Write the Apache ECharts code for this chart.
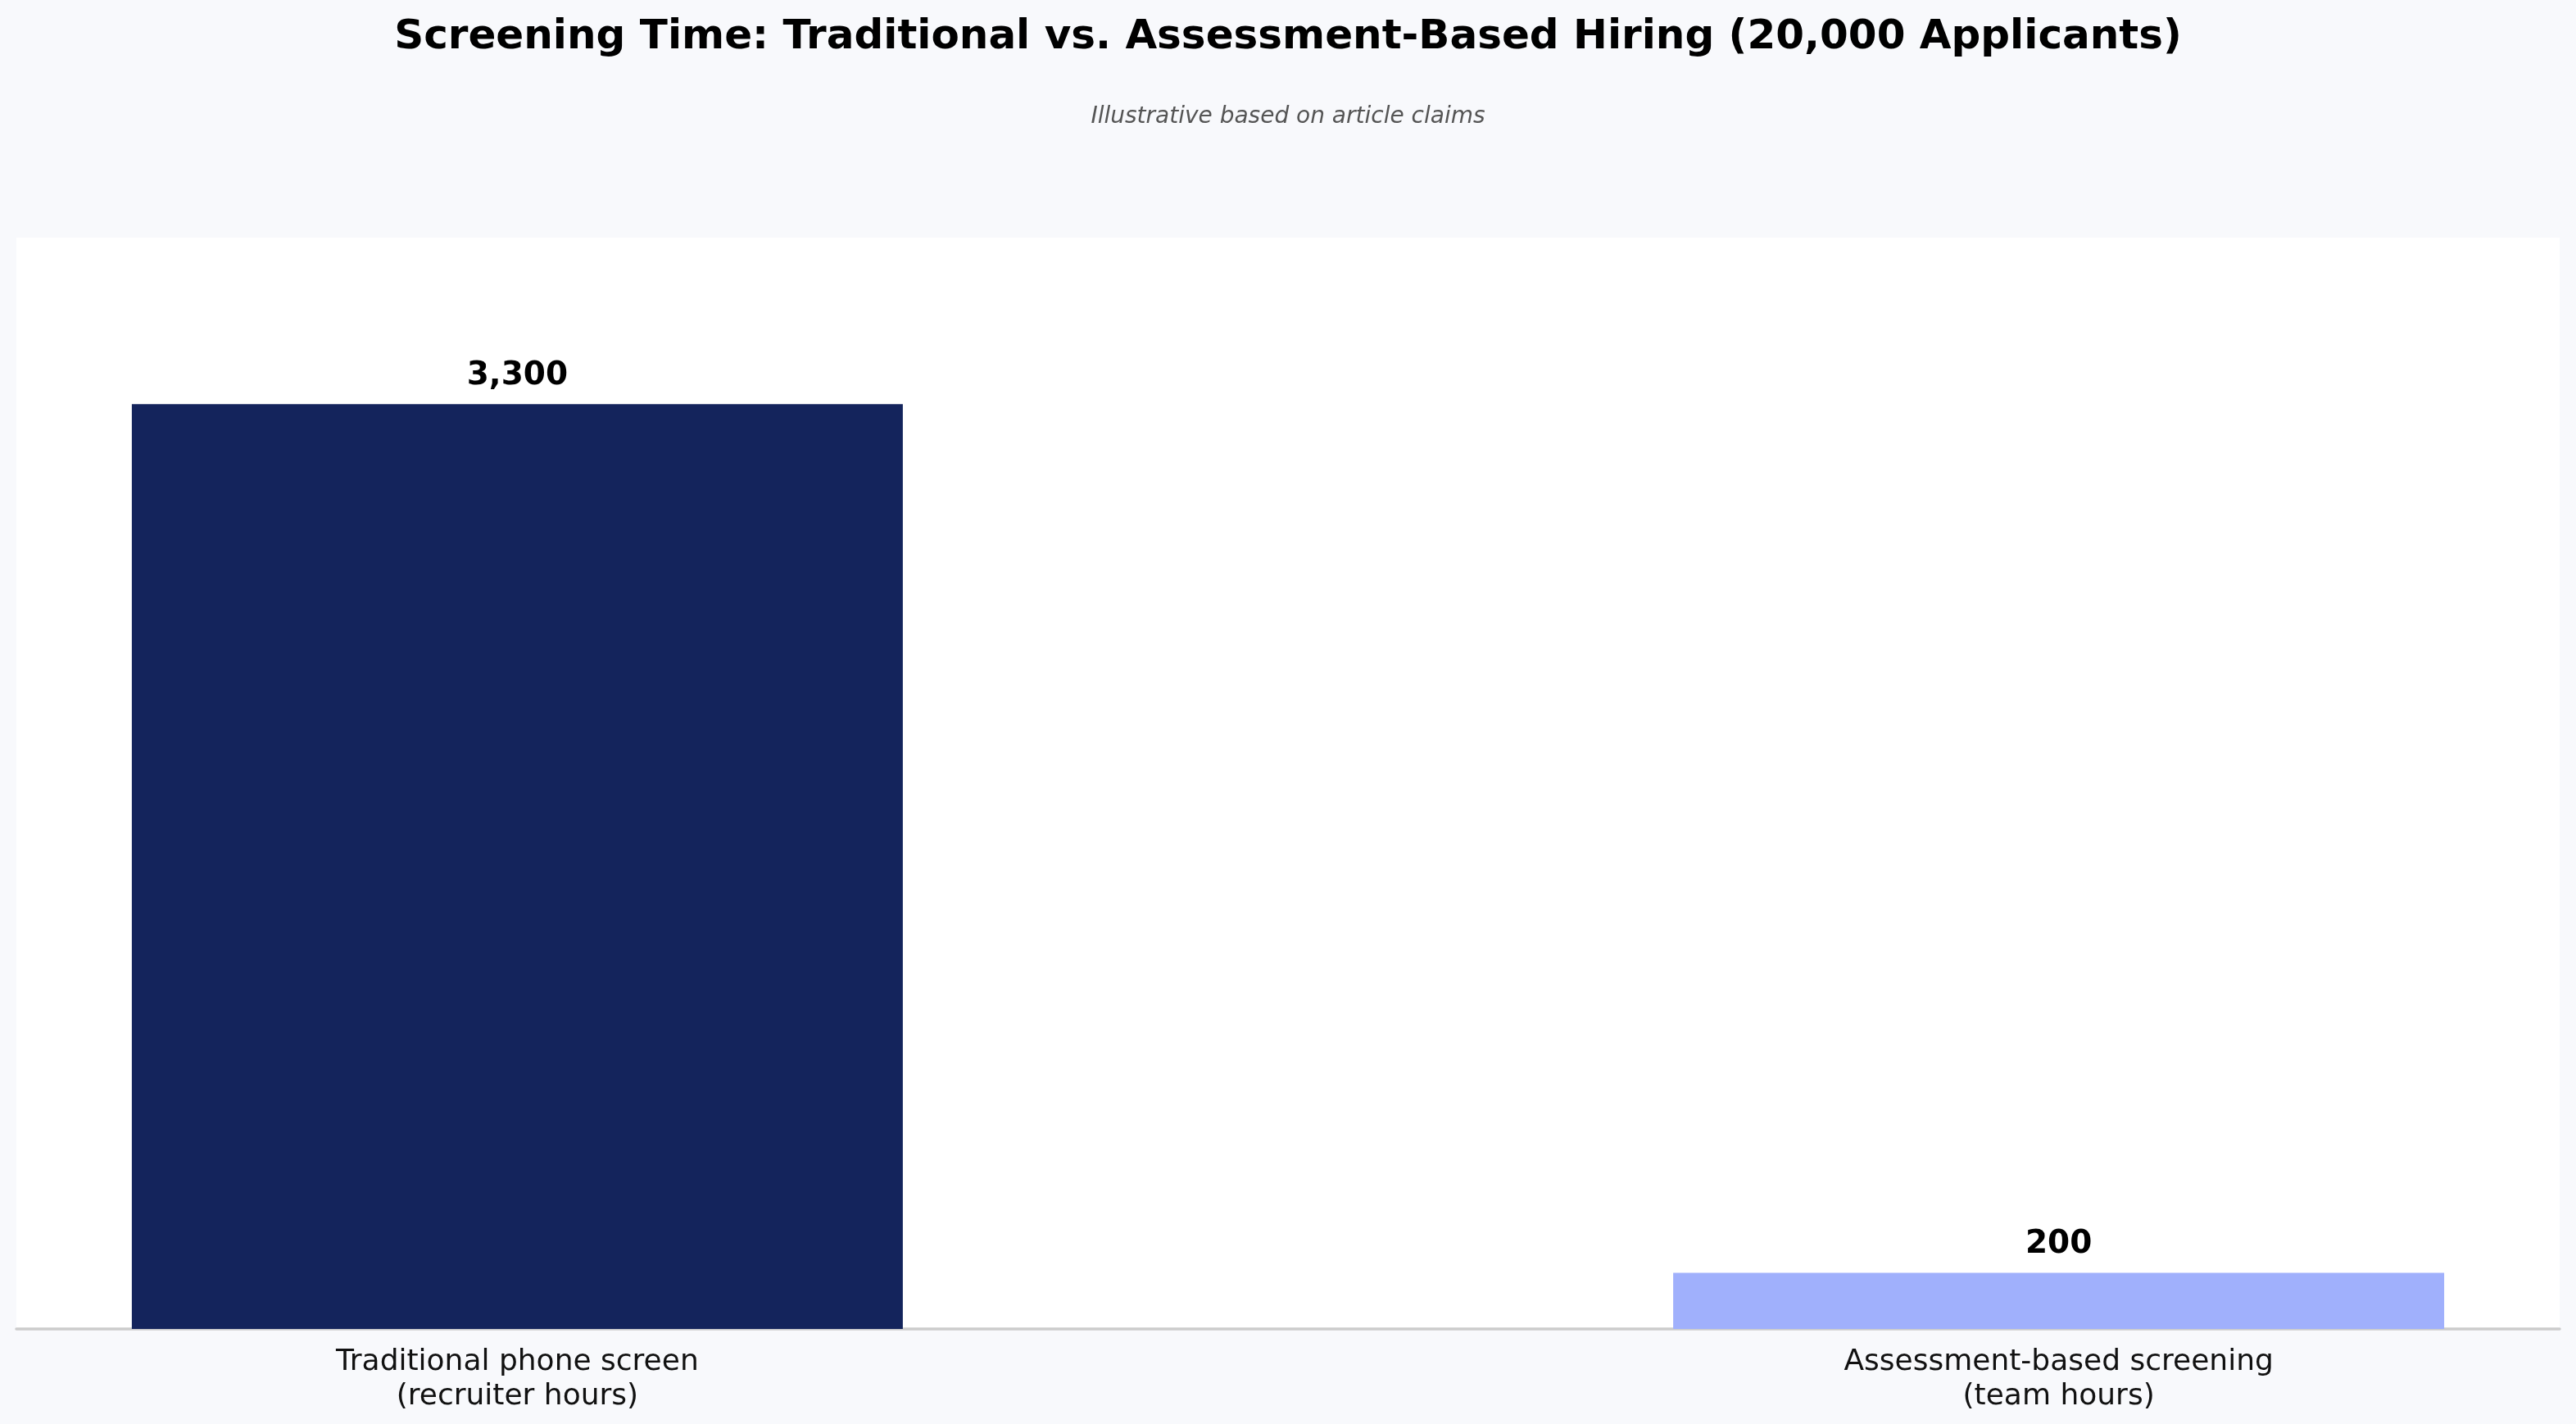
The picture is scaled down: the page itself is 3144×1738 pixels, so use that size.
<!DOCTYPE html>
<html>
<head>
<meta charset="utf-8">
<script src="https://cdn.jsdelivr.net/npm/echarts@6/dist/echarts.min.js"></script>
<style>
  html, body { margin: 0; padding: 0; background: #f8f9fc; }
  #chart { width: 3144px; height: 1738px; }
</style>
</head>
<body>
<div id="chart"></div>
<script>
// ---- data ----
const categories = ['Traditional phone screen\n(recruiter hours)', 'Assessment-based screening\n(team hours)'];
const hours = [3300, 200];
const barColors = ['#14245c', '#a0b0fc'];
const valueLabels = ['3,300', '200'];
const titleText = 'Screening Time: Traditional vs. Assessment-Based Hiring (20,000 Applicants)';
const subtitleText = 'Illustrative based on article claims';

const FONT = 'DejaVu Sans';
const chart = echarts.init(document.getElementById('chart'), null, { renderer: 'canvas' });

chart.setOption({
  backgroundColor: '#f8f9fc',
  animation: false,
  title: [
    {
      text: titleText,
      left: 'center',
      top: 16,
      textStyle: { fontFamily: FONT, fontWeight: 'bold', fontSize: 50, color: '#000000', lineHeight: 50 }
    },
    {
      text: subtitleText,
      left: 'center',
      top: 124,
      textStyle: { fontFamily: FONT, fontStyle: 'italic', fontWeight: 'normal', fontSize: 28, color: '#555555', lineHeight: 28 }
    }
  ],
  grid: {
    left: 20, right: 20, top: 290, bottom: 116,
    show: true, backgroundColor: '#ffffff', borderWidth: 0
  },
  xAxis: {
    type: 'value',
    min: -0.325,
    max: 1.325,
    splitLine: { show: false },
    axisTick: { show: false },
    axisLine: { show: true, onZero: true, lineStyle: { color: '#cccccc', width: 3.5 } },
    axisLabel: {
      customValues: [0, 1],
      formatter: function (v) { return categories[Math.round(v)] || ''; },
      fontFamily: FONT, fontSize: 36, color: '#111111', lineHeight: 42, margin: 20, align: 'center'
    }
  },
  yAxis: {
    type: 'value',
    min: 0,
    max: 3894,
    show: false,
    splitLine: { show: false }
  },
  series: [{
    type: 'bar',
    barWidth: 941,
    data: hours.map(function (h, i) {
      return { value: [i, h], itemStyle: { color: barColors[i] } };
    }),
    label: {
      show: true,
      position: 'top',
      distance: 15,
      formatter: function (p) { return valueLabels[p.dataIndex]; },
      fontFamily: FONT, fontWeight: 'bold', fontSize: 39, color: '#000000', lineHeight: 39
    }
  }]
});
</script>
</body>
</html>
